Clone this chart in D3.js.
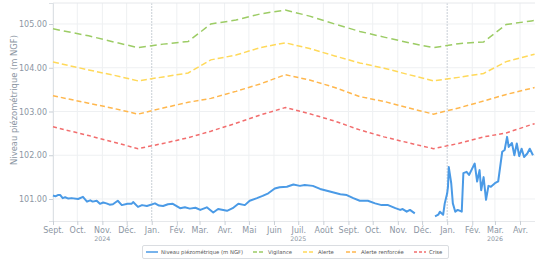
<!DOCTYPE html>
<html>
<head>
<meta charset="UTF-8">
<title>Niveau piézométrique</title>
<script src="https://cdn.jsdelivr.net/npm/d3@7/dist/d3.min.js"></script>
<style>
  body { margin: 0; background: #fff; }
  text { font-family: "DejaVu Sans", sans-serif; }
</style>
</head>
<body>
<svg id="chart" width="535" height="263"></svg>
<script>
// measured water level (m NGF), null = no data
var levelDates = ["2024-09-01","2024-09-04","2024-09-07","2024-09-10","2024-09-13","2024-09-16","2024-09-20","2024-09-24","2024-10-02","2024-10-08",
  "2024-10-13","2024-10-17","2024-10-20","2024-10-25","2024-10-29","2024-11-02","2024-11-06","2024-11-10","2024-11-14","2024-11-20","2024-11-25","2024-12-02",
  "2024-12-07","2024-12-09","2024-12-15","2024-12-20","2024-12-26","2025-01-05","2025-01-10","2025-01-15","2025-01-21",
  "2025-01-27","2025-02-05","2025-02-11","2025-02-17","2025-02-24","2025-03-02","2025-03-10","2025-03-18","2025-03-24",
  "2025-04-04","2025-04-11","2025-04-18","2025-04-26","2025-05-02","2025-05-11","2025-05-18","2025-05-25","2025-06-02",
  "2025-06-08","2025-06-17","2025-06-25","2025-07-03","2025-07-09","2025-07-19","2025-07-28","2025-08-09","2025-08-22",
  "2025-08-30","2025-09-07","2025-09-15","2025-09-25","2025-10-04","2025-10-12","2025-10-20","2025-10-29","2025-11-04",
  "2025-11-07","2025-11-12","2025-11-16","2025-11-22","2025-12-05",
  "2025-12-17","2025-12-21","2025-12-23","2025-12-27","2025-12-29","2026-01-01","2026-01-02","2026-01-03","2026-01-06",
  "2026-01-08","2026-01-11","2026-01-14","2026-01-19","2026-01-21","2026-01-25","2026-01-28","2026-02-01","2026-02-04",
  "2026-02-07","2026-02-10","2026-02-12","2026-02-15","2026-02-18","2026-02-21","2026-02-24","2026-03-01","2026-03-05",
  "2026-03-10","2026-03-13","2026-03-16","2026-03-18","2026-03-22","2026-03-25","2026-03-28","2026-03-31","2026-04-03",
  "2026-04-06","2026-04-10","2026-04-13","2026-04-17"]
var levelValues = [101.08,101.06,101.09,101.09,101.02,101.04,101.01,101.02,101.00,101.05,
  100.94,100.97,100.94,100.96,100.89,100.92,100.90,100.87,100.88,100.96,100.86,100.89,
  100.89,100.93,100.82,100.86,100.84,100.90,100.85,100.84,100.88,
  100.89,100.79,100.81,100.78,100.80,100.75,100.81,100.69,100.77,
  100.73,100.79,100.89,100.86,100.96,101.02,101.07,101.13,101.24,
  101.27,101.28,101.33,101.30,101.32,101.30,101.23,101.17,101.11,
  101.09,101.02,100.96,100.96,100.90,100.86,100.86,100.79,100.75,
  100.77,100.71,100.75,100.67,null,
  100.60,100.64,100.71,100.64,100.90,101.13,101.28,101.73,101.36,
  100.90,100.71,100.75,100.71,101.59,101.62,101.55,101.70,101.81,
  101.40,101.66,101.20,101.50,100.98,101.30,101.28,101.36,101.40,
  102.08,102.12,102.42,102.19,102.28,102.00,102.27,101.98,102.15,
  101.96,102.04,102.15,102.00]

// alert thresholds (m NGF)
var thresholdDates = ["2024-09-01","2024-10-15","2024-11-15","2024-12-15","2025-01-15","2025-02-15","2025-03-15",
  "2025-04-15","2025-05-15","2025-06-15","2025-07-15","2025-08-15","2025-09-15","2025-10-15","2025-11-15",
  "2025-12-15","2026-01-15","2026-02-15","2026-03-15","2026-04-15","2026-04-19"]
var vigilance = [104.89,104.73,104.59,104.46,104.54,104.60,105.00,105.09,105.23,105.32,105.18,105.00,104.83,104.70,104.57,104.46,104.55,104.59,104.99,105.07,105.08]
var alerte = [104.13,103.95,103.83,103.70,103.79,103.88,104.18,104.29,104.46,104.57,104.44,104.27,104.11,103.99,103.84,103.70,103.78,103.87,104.14,104.29,104.31]
var alerteRenforcee = [103.36,103.19,103.07,102.94,103.08,103.21,103.30,103.46,103.63,103.84,103.72,103.55,103.34,103.23,103.08,102.94,103.08,103.24,103.39,103.53,103.55]
var crise = [102.65,102.45,102.30,102.15,102.27,102.40,102.55,102.73,102.92,103.09,102.95,102.78,102.58,102.42,102.28,102.15,102.27,102.42,102.51,102.70,102.72]

var seriesNames = ["Niveau piézométrique (m NGF)", "Vigilance", "Alerte", "Alerte renforcée", "Crise"]
var monthNames = ["Jan.","Fév.","Mar.","Avr.","Mai","Juin","Juil.","Août","Sept.","Oct.","Nov.","Déc."]
var yTicks = [101, 102, 103, 104, 105]
var yearTickDates = ["2024-11-01", "2025-07-01", "2026-03-01"]
var yearTickLabels = ["2024", "2025", "2026"]

var parse = d3.utcParse("%Y-%m-%d")
var svg = d3.select("#chart")
var plotLeft = 53, plotRight = 535, plotTop = 3, plotBottom = 221

var x = d3.scaleUtc()
  .domain([parse("2024-09-01"), new Date(Date.UTC(2026, 3, 19, 12))])
  .range([plotLeft, plotRight])
var y = d3.scaleLinear().domain([100.497, 105.48]).range([plotBottom, plotTop])

var months = d3.utcMonth.range(parse("2024-09-01"), x.domain()[1])

// grid
svg.append("g").selectAll("line").data(yTicks).join("line")
  .attr("x1", plotLeft).attr("x2", plotRight)
  .attr("y1", d => y(d)).attr("y2", d => y(d))
  .attr("stroke", "#eef0f2")
svg.append("g").selectAll("line").data(months).join("line")
  .attr("x1", d => x(d)).attr("x2", d => x(d))
  .attr("y1", plotTop).attr("y2", plotBottom)
  .attr("stroke", d => d.getUTCMonth() == 0 ? "#c9cfd6" : "#eef0f2")
  .attr("stroke-dasharray", d => d.getUTCMonth() == 0 ? "2,1" : null)
svg.append("line").attr("x1", plotLeft).attr("x2", plotRight).attr("y1", plotTop).attr("y2", plotTop).attr("stroke", "#e6e8eb")

// axes
var tickColor = "#8c96a3"
var yAxis = svg.append("g").attr("transform", "translate(" + plotLeft + ",0)")
  .call(d3.axisLeft(y).tickValues(yTicks).tickFormat(d3.format(".2f")).tickSize(4).tickPadding(2))
var xAxis = svg.append("g").attr("transform", "translate(0," + plotBottom + ")")
  .call(d3.axisBottom(x).tickValues(months).tickFormat(d => monthNames[d.getUTCMonth()]).tickSize(4).tickPadding(2))
yAxis.select(".domain").attr("stroke", "#dde1e5")
xAxis.select(".domain").attr("stroke", "#e6e8eb")
svg.selectAll(".tick line").attr("stroke", "#c9cfd6")
yAxis.selectAll("text").attr("fill", tickColor).style("font-size", "8px")
xAxis.selectAll("text").attr("fill", tickColor).style("font-size", "8px")

svg.append("g").selectAll("text").data(yearTickDates).join("text")
  .attr("x", d => x(parse(d))).attr("y", 241)
  .attr("text-anchor", "middle").attr("fill", tickColor).style("font-size", "6.3px")
  .text((d, i) => yearTickLabels[i])

svg.append("text")
  .attr("transform", "translate(17," + ((plotTop + plotBottom) / 2 - 12) + ") rotate(-90)")
  .attr("text-anchor", "middle").attr("fill", "#8c96a3").style("font-size", "8.4px")
  .text("Niveau piézométrique (m NGF)")

// threshold lines
var thresholds = [
  { name: seriesNames[1], values: vigilance, color: "#9ccc65", dash: "7,4" },
  { name: seriesNames[2], values: alerte, color: "#ffd95a", dash: "6,3" },
  { name: seriesNames[3], values: alerteRenforcee, color: "#ffb74d", dash: "5,3" },
  { name: seriesNames[4], values: crise, color: "#f26d6d", dash: "4,3" }
]
var thLine = d3.line().x((d, i) => x(parse(thresholdDates[i]))).y(d => y(d))
thresholds.forEach(function (t) {
  svg.append("path").datum(t.values)
    .attr("d", thLine).attr("fill", "none")
    .attr("stroke", t.color).attr("stroke-width", 1.5)
    .attr("stroke-dasharray", t.dash)
})

// measured level
var levelLine = d3.line()
  .defined(d => d != null)
  .x((d, i) => x(parse(levelDates[i])))
  .y(d => y(d))
svg.append("path").datum(levelValues)
  .attr("d", levelLine).attr("fill", "none")
  .attr("stroke", "#4a9ae6").attr("stroke-width", 2)
  .attr("stroke-linejoin", "round")

// legend
var legendItems = [
  { name: seriesNames[0], color: "#4a9ae6", dash: null, x: 146 },
  { name: seriesNames[1], color: thresholds[0].color, dash: "4,2", x: 253 },
  { name: seriesNames[2], color: thresholds[1].color, dash: "4,2", x: 303 },
  { name: seriesNames[3], color: thresholds[2].color, dash: "4,2", x: 346 },
  { name: seriesNames[4], color: thresholds[3].color, dash: "3,2", x: 414 }
]
svg.append("rect").attr("x", 142.5).attr("y", 245.5).attr("width", 306).attr("height", 13)
  .attr("fill", "#fff").attr("stroke", "#dadde1").attr("rx", 1.5)
var lg = svg.append("g").selectAll("g").data(legendItems).join("g")
  .attr("transform", d => "translate(" + d.x + ",252)")
lg.append("line").attr("x1", 0).attr("x2", 12)
  .attr("stroke", d => d.color).attr("stroke-width", 1.5)
  .attr("stroke-dasharray", d => d.dash)
lg.append("text").attr("x", 15).attr("dy", "0.35em")
  .attr("fill", "#555").style("font-size", "5.3px")
  .text(d => d.name)
</script>
</body>
</html>
